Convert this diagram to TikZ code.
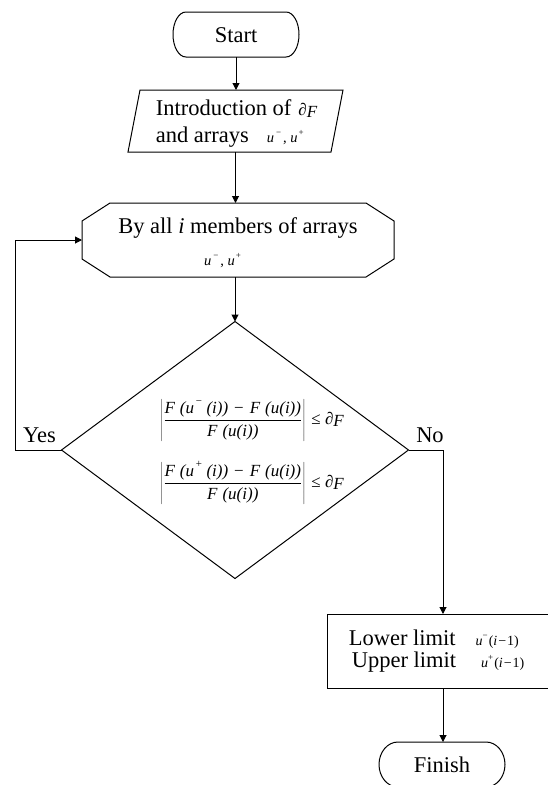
\documentclass[tikz,border=0pt]{standalone}
\usepackage{fontspec}
\setmainfont{Liberation Serif}
\usetikzlibrary{arrows.meta,calc}
\newcommand{\supm}{\raisebox{0.45em}{\fontsize{9}{9}\selectfont −}}
\newcommand{\supp}{\raisebox{0.45em}{\fontsize{9}{9}\selectfont +}}
\newcommand{\fsupm}{\raisebox{0.5em}{\fontsize{11}{11}\selectfont −}}
\newcommand{\fsupp}{\raisebox{0.5em}{\fontsize{11}{11}\selectfont +}}
\newcommand{\cond}[1]{$\displaystyle\left|\frac{\mbox{\itshape\rule[-5pt]{0pt}{18pt}F\hspace{5pt}(u\hspace{1pt}#1\hspace{4pt}(i))\hspace{6pt}\textup{−}\hspace{6pt}F\hspace{5pt}(u(i))}}{\mbox{\itshape\rule[-6pt]{0pt}{19pt}F\hspace{5pt}(u(i))}}\right|\mbox{\hspace{3pt}≤ ∂\raisebox{-2pt}{\textit{F}}}$}
\begin{document}
\begin{tikzpicture}[x=1pt,y=-1pt,line width=1pt,
  big/.style={font=\fontsize{22.5}{27}\selectfont},
  sml/.style={font=\fontsize{14.5}{16}\selectfont},
  frm/.style={font=\fontsize{17}{20}\selectfont},
  hold/.style={inner sep=0pt,outer sep=0pt},
  arr/.style={-{Triangle[length=7pt,width=7pt]}}]
\useasboundingbox (0,0) rectangle (548,785);
% placeholders for connectors
\node[hold,minimum width=126pt,minimum height=45pt] (start) at (236,34.5) {};
\node[hold,minimum width=200pt,minimum height=62pt] (intro) at (235.5,121) {};
\node[hold,minimum width=312pt,minimum height=74pt] (loop) at (238,240) {};
\node[hold,minimum width=347pt,minimum height=257pt] (dec) at (235,450) {};
\node[hold,minimum width=226pt,minimum height=74pt] (res) at (440,651) {};
\node[hold,minimum width=126pt,minimum height=45pt] (fin) at (442,764.5) {};
% outlines
\draw (186,12) -- (286,12) .. controls (293.2,12) and (299,22.1) .. (299,34.5)
  .. controls (299,46.9) and (293.2,57) .. (286,57) -- (186,57)
  .. controls (178.8,57) and (173,46.9) .. (173,34.5)
  .. controls (173,22.1) and (178.8,12) .. (186,12) -- cycle;
\draw (140,90) -- (343,90) -- (331,152) -- (128,152) -- cycle;
\draw (110,203) -- (366,203) -- (394,221) -- (394,259) -- (366,277) -- (110,277) -- (82,259) -- (82,221) -- cycle;
\draw (235,321.5) -- (408.5,450) -- (235,578.5) -- (61.5,450) -- cycle;
\draw (327,614) rectangle (560,688);
\draw (398,742) -- (486,742) .. controls (496.5,742) and (505,752.1) .. (505,764.5)
  .. controls (505,776.9) and (496.5,787) .. (486,787) -- (398,787)
  .. controls (387.5,787) and (379,776.9) .. (379,764.5)
  .. controls (379,752.1) and (387.5,742) .. (398,742) -- cycle;
% connectors
\coordinate (yl) at (15.7,450);
\coordinate (nr) at (443,450);
\draw[arr] (start.south) -- (start.south |- intro.north);
\draw[arr] (intro.south) -- (intro.south |- loop.north);
\draw[arr] (dec.north |- loop.south) -- (dec.north);
\draw[arr] (dec.west) -- (yl) |- (loop.west);
\draw[arr] (dec.east) -- (nr) -- (nr |- res.north);
\draw[arr] (nr |- res.south) -- (nr |- fin.north);
% texts
\node[big,anchor=base] (tstart) at (236,42) {Start};
\node[big,anchor=base west] (t1) at (152,115) {Introduction of\hspace{7pt}{\fontsize{17}{17}\selectfont ∂\raisebox{-2pt}{\textit{F}}}};
\node[big,anchor=base west] (t2) at (152,142) {and arrays\hspace{18pt}{\fontsize{14.5}{14}\selectfont\textit{u}\hspace{2pt}\supm\hspace{2pt}, \textit{u}\hspace{1pt}\supp}};
\node[big,anchor=base] (t3) at (238,233) {By all \textit{i} members of arrays};
\node[sml,anchor=base] (t4) at (222.5,265) {\textit{u}\hspace{2pt}\supm\hspace{2pt}, \textit{u}\hspace{1pt}\supp};
\node[frm] (c1) at (252,421) {\cond{\fsupm}};
\node[frm] (c2) at (252,483.5) {\cond{\fsupp}};
\node[big,anchor=base] (yes) at (39.5,442) {Yes};
\node[big,anchor=base] (no) at (430,442) {No};
\node[big,anchor=base west] (l1) at (345,645) {Lower limit\hspace{20pt}{\fontsize{14}{14}\selectfont\textit{u}\supm\hspace{1pt}(\textit{i}\hspace{1pt}−\hspace{1pt}1)}};
\node[big,anchor=base west] (l2) at (348,667) {Upper limit\hspace{25pt}{\fontsize{14}{14}\selectfont\textit{u}\supp\hspace{1pt}(\textit{i}\hspace{1pt}−\hspace{1pt}1)}};
\node[big,anchor=base] (tfin) at (442,772) {Finish};
\end{tikzpicture}
\end{document}
